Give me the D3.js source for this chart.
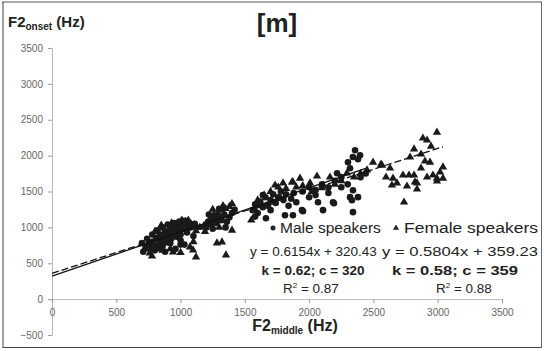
<!DOCTYPE html>
<html><head><meta charset="utf-8">
<script src="https://cdn.jsdelivr.net/npm/d3@7"></script>
<style>body{margin:0;background:#fff}svg{display:block;font-family:"Liberation Sans",Arial,sans-serif}</style>
</head><body><svg id="c" width="544" height="351"></svg>
<script>
const xTicks=[0,500,1000,1500,2000,2500,3000,3500];
const yTicks=[-500,0,500,1000,1500,2000,2500,3000,3500];
const maleData=[[710,660],[730,720],[750,760],[760,700],[780,800],[790,740],[800,680],[810,850],[830,780],[840,900],[850,820],[860,740],[870,880],[880,950],[890,800],[900,860],[910,920],[920,980],[930,850],[940,900],[950,1000],[960,940],[970,870],[980,1020],[990,960],[1000,900],[1010,1050],[1020,980],[1040,1000],[1050,930],[1060,1040],[1080,1000],[1000,820],[920,780],[850,700],
[820,960],[860,1000],[900,1040],[950,1060],[990,1080],[1030,1090],[780,900],[740,840],[700,780],[880,660],[960,700],[1030,760],[1100,880],[1110,1050],[1000,760],
[1200,1000],[1220,1080],[1240,1040],[1260,1120],[1280,1060],[1300,1150],[1320,1100],[1340,1180],[1360,1080],[1380,1140],[1400,1200],[1250,980],[1220,1180],[1300,1260],[1350,1000],[1420,1250],
[1560,1240],[1580,1320],[1600,1200],[1620,1360],[1640,1280],[1660,1420],[1680,1300],[1700,1380],[1720,1460],[1740,1340],[1760,1420],[1780,1500],[1800,1380],[1820,1460],[1840,1300],[1860,1400],[1880,1480],[1900,1350],[1664,1128],[1640,1450],[1700,1240],[1580,1150],[1812,1170],[1874,1170],[1944,1240],
[1950,1500],[2000,1560],[2050,1520],[2100,1600],[2150,1560],[2200,1650],[2250,1700],[2217,1755],[2302,1908],[2318,1825],[2357,2075],[2396,2006],[2380,1950],[2340,1980],[2341,1518],[2318,1421],[2341,1212],[2186,1351],[2108,1240],[2069,1351],[2193,1337],[2333,1379],[2380,1421],[1952,1226],[2000,1420],[2050,1450],[2150,1480],[2250,1560],[2300,1600],[2400,1700],[2440,1750]];
const femaleData=[[778,600],[760,640],[800,720],[820,760],[840,800],[860,850],[880,900],[900,940],[920,880],[941,655],[940,960],[960,1000],[980,1040],[1000,1070],[1020,1060],[1040,1080],[1060,1000],[1073,725],[1097,683],[1120,585],[1080,1050],[900,780],[860,680],[820,700],
[800,940],[850,1030],[930,1060],[1010,1100],[1060,1100],[720,700],[1000,650],[920,700],[1100,800],[1130,1000],
[1120,950],[1150,1000],[1180,1020],
[1200,1060],[1230,1120],[1260,1180],[1290,1200],[1320,1240],[1350,1260],[1380,1290],[1283,780],[1322,795],[1353,613],[1400,960],[1300,1000],[1250,1250],[1330,1300],[1400,1330],[1190,940],
[1550,1100],[1580,1250],[1600,1380],[1650,1450],[1700,1500],[1735,1588],[1760,1560],[1797,1616],[1820,1540],[1867,1630],[1900,1560],[1929,1685],[1874,1630],[1780,1400],[1700,1350],[1620,1300],
[1950,1580],[2007,1616],[2061,1713],[2108,1588],[2162,1699],[2200,1600],[2250,1650],[2294,1755],[2350,1700],[2400,1750],[2450,1800],[2497,1908],[2559,1880],[2567,1866],[2598,1699],[2629,1825],[2652,1685],[2683,1616],[2644,1588],[2020,1500],[2100,1550],
[2994,2326],[2885,2243],[2917,2215],[2948,2131],[2816,2090],[2785,1978],[2870,2020],[2901,1922],[2940,1908],[2870,1825],[3041,1839],[3018,1769],[2730,1727],[2777,1727],[2816,1727],[2917,1699],[2963,1727],[2994,1685],[3041,1685],[2823,1630],[2761,1574],[2839,1616],[2839,1532],[2738,1351],[2994,1644]];
const maleFit={k:0.6154,c:320.43,x0:0,x1:2440};
const femaleFit={k:0.5804,c:359.23,x0:0,x1:3041};
const legendLabels=["Male speakers","Female speakers"];
const eqLabels=["y = 0.6154x + 320.43","y = 0.5804x + 359.23"];
const kcLabels=["k = 0.62; c = 320","k = 0.58; c = 359"];
const r2Values=["0.87","0.88"];

const svg=d3.select("#c");
const x=d3.scaleLinear().domain([0,3500]).range([52,502]);
const y=d3.scaleLinear().domain([-500,3500]).range([335,48]);

// frame
svg.append("line").attr("x1",2).attr("x2",542).attr("y1",2).attr("y2",2).attr("stroke","#aaa").attr("stroke-width",2);
svg.append("line").attr("x1",3).attr("x2",3).attr("y1",2).attr("y2",348).attr("stroke","#444");
svg.append("line").attr("x1",3).attr("x2",541).attr("y1",347.5).attr("y2",347.5).attr("stroke","#444");
svg.append("line").attr("x1",541.5).attr("x2",541.5).attr("y1",2).attr("y2",348).attr("stroke","#666");

// axes
const fmt=d3.format("d");
const ya=svg.append("g").attr("transform","translate("+x(0)+",0)").call(d3.axisLeft(y).tickValues(yTicks).tickFormat(fmt).tickSize(4).tickSizeOuter(0).tickPadding(5));
const xa=svg.append("g").attr("transform","translate(0,"+y(0)+")").call(d3.axisBottom(x).tickValues(xTicks).tickFormat(fmt).tickSize(4).tickSizeOuter(0).tickPadding(6));
[ya,xa].forEach(g=>{g.select(".domain").attr("stroke","#bbb");g.selectAll(".tick line").attr("stroke","#999");
 g.selectAll("text").attr("fill","#666").style("font-size","10px").style("font-family","Liberation Sans, Arial");});

// points
const tri=d3.symbol().type(d3.symbolTriangle).size(30);
svg.append("g").selectAll("path").data(femaleData).join("path").attr("d",tri)
 .attr("transform",d=>"translate("+x(d[0])+","+y(d[1])+")").attr("fill","#1a1a1a");
svg.append("g").selectAll("circle").data(maleData).join("circle")
 .attr("cx",d=>x(d[0])).attr("cy",d=>y(d[1])).attr("r",3.3).attr("fill","#1a1a1a");

// fits
[[maleFit,null],[femaleFit,"7,3"]].forEach(([f,dash])=>{
 svg.append("line").attr("x1",x(f.x0)).attr("y1",y(f.k*f.x0+f.c)).attr("x2",x(f.x1)).attr("y2",y(f.k*f.x1+f.c))
  .attr("stroke","#111").attr("stroke-width",1.3).attr("stroke-dasharray",dash);
});

// title
svg.append("text").attr("x",277).attr("y",32).attr("text-anchor","middle").style("font-size","26px").style("font-weight","bold").attr("fill","#222").text("[m]");
// y label
const yl=svg.append("text").attr("x",8).attr("y",27).style("font-weight","bold").attr("fill","#222").style("font-size","15px");
yl.append("tspan").text("F2");
yl.append("tspan").style("font-size","10px").attr("dy",3).text("onset");
yl.append("tspan").attr("dy",-3).text(" (Hz)");
// x label
const xl=svg.append("text").attr("x",295).attr("y",331).attr("text-anchor","middle").style("font-weight","bold").attr("fill","#222").style("font-size","16px");
xl.append("tspan").text("F2");
xl.append("tspan").style("font-size","10px").attr("dy",3).text("middle");
xl.append("tspan").attr("dy",-3).text(" (Hz)");

// legend
const lg=svg.append("g").attr("fill","#222");
lg.append("circle").attr("cx",273).attr("cy",228).attr("r",2.5);
lg.append("text").attr("x",280).attr("y",233).style("font-size","15.5px").text(legendLabels[0]);
lg.append("path").attr("d",d3.symbol().type(d3.symbolTriangle).size(16)).attr("transform","translate(396,228)");
lg.append("text").attr("x",404).attr("y",233).style("font-size","15.5px").attr("textLength",134).attr("lengthAdjust","spacingAndGlyphs").text(legendLabels[1]);
lg.append("text").attr("x",250).attr("y",256).style("font-size","13.5px").text(eqLabels[0]);
lg.append("text").attr("x",382).attr("y",256).style("font-size","13.5px").attr("textLength",156).attr("lengthAdjust","spacingAndGlyphs").text(eqLabels[1]);
lg.append("text").attr("x",313).attr("y",275).attr("text-anchor","middle").style("font-size","13.5px").style("font-weight","bold").text(kcLabels[0]);
lg.append("text").attr("x",392).attr("y",275).style("font-size","13.5px").style("font-weight","bold").attr("textLength",126).attr("lengthAdjust","spacingAndGlyphs").text(kcLabels[1]);
[[283,r2Values[0]],[436,r2Values[1]]].forEach(([x0,v])=>{
 const t=lg.append("text").attr("x",x0).attr("y",293).style("font-size","13.5px");
 t.append("tspan").text("R");
 t.append("tspan").style("font-size","8px").attr("dy",-5).text("2");
 t.append("tspan").attr("dy",5).text(" = "+v);
});
</script></body></html>
